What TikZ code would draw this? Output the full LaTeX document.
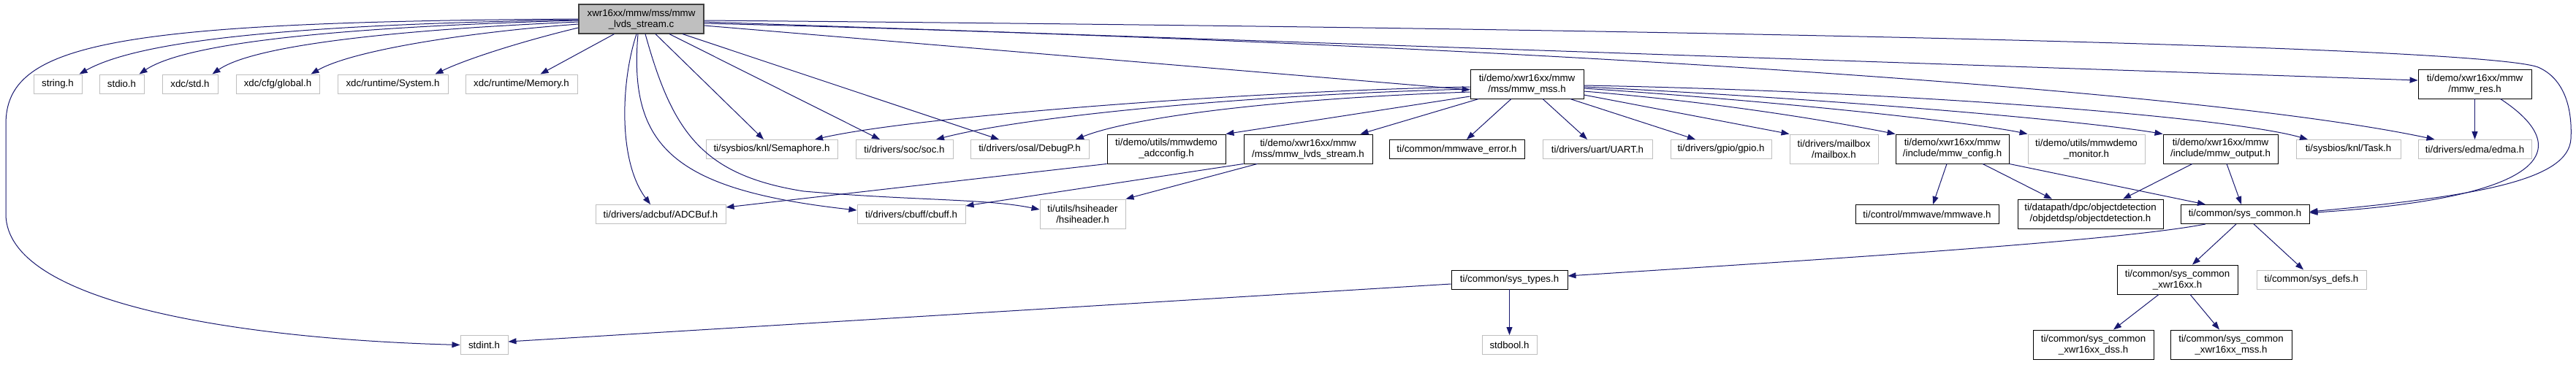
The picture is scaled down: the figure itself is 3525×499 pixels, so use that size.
\documentclass[tikz,border=0pt]{standalone}
\usepackage{fontspec}
\setmainfont{Liberation Sans}
\usetikzlibrary{arrows.meta}
\definecolor{edgec}{HTML}{191970}
\definecolor{greyb}{HTML}{BFBFBF}
\definecolor{mainb}{HTML}{404040}
\begin{document}
\begin{tikzpicture}[x=1pt,y=-1pt,
  every node/.style={font=\fontsize{13.3}{15}\selectfont, inner sep=0pt, align=center, minimum height=26pt},
  gbox/.style={draw=greyb, line width=1pt},
  bbox/.style={draw=black, line width=0.9pt},
  tall/.style={minimum height=40pt},
  dep/.style={draw=edgec, line width=1pt, -{Triangle[length=11pt,width=8pt]}},
]
\fill[white] (0,0) rectangle (3525,499);
\useasboundingbox (0,0) rectangle (3525,499);

% row 0
\node[draw=mainb, fill=greyb, line width=1.2pt, tall, minimum width=171] (main) at (877.5,26) {xwr16xx/mmw/mss/mmw\\\_lvds\_stream.c};

% row 1
\node[gbox, minimum width=66] (string) at (79,115) {string.h};
\node[gbox, minimum width=61] (stdio) at (166.5,115) {stdio.h};
\node[gbox, minimum width=76] (xdcstd) at (260,115) {xdc/std.h};
\node[gbox, minimum width=114] (global) at (380,115) {xdc/cfg/global.h};
\node[gbox, minimum width=151] (system) at (537.5,115) {xdc/runtime/System.h};
\node[gbox, minimum width=153] (memory) at (713.5,115) {xdc/runtime/Memory.h};
\node[bbox, tall, minimum width=155] (mss) at (2089.5,115) {ti/demo/xwr16xx/mmw\\/mss/mmw\_mss.h};
\node[bbox, tall, minimum width=155] (res) at (3386.5,115) {ti/demo/xwr16xx/mmw\\/mmw\_res.h};

% row 2
\node[gbox, minimum width=180] (sem) at (1056,204.5) {ti/sysbios/knl/Semaphore.h};
\node[gbox, minimum width=133] (soc) at (1237.5,204.5) {ti/drivers/soc/soc.h};
\node[gbox, minimum width=162] (debugp) at (1409,204.5) {ti/drivers/osal/DebugP.h};
\node[bbox, tall, minimum width=162] (adccfg) at (1596,204) {ti/demo/utils/mmwdemo\\\_adcconfig.h};
\node[bbox, tall, minimum width=176] (lvdsh) at (1790,204) {ti/demo/xwr16xx/mmw\\/mss/mmw\_lvds\_stream.h};
\node[bbox, minimum width=185] (mmwerr) at (1993.5,204.5) {ti/common/mmwave\_error.h};
\node[gbox, minimum width=150] (uart) at (2186,204.5) {ti/drivers/uart/UART.h};
\node[gbox, minimum width=138] (gpio) at (2355,204.5) {ti/drivers/gpio/gpio.h};
\node[gbox, tall, minimum width=121] (mailbox) at (2509.5,204) {ti/drivers/mailbox\\/mailbox.h};
\node[bbox, tall, minimum width=155] (config) at (2671.5,204) {ti/demo/xwr16xx/mmw\\/include/mmw\_config.h};
\node[gbox, tall, minimum width=160] (monitor) at (2855,204) {ti/demo/utils/mmwdemo\\\_monitor.h};
\node[bbox, tall, minimum width=157] (output) at (3038.5,204) {ti/demo/xwr16xx/mmw\\/include/mmw\_output.h};
\node[gbox, minimum width=143] (task) at (3213.5,204.5) {ti/sysbios/knl/Task.h};
\node[gbox, minimum width=155] (edma) at (3386.5,204.5) {ti/drivers/edma/edma.h};

% row 3
\node[gbox, minimum width=178] (adcbuf) at (904,293.5) {ti/drivers/adcbuf/ADCBuf.h};
\node[gbox, minimum width=148] (cbuff) at (1247,293.5) {ti/drivers/cbuff/cbuff.h};
\node[gbox, tall, minimum width=117] (hsi) at (1481.5,293) {ti/utils/hsiheader\\/hsiheader.h};
\node[bbox, minimum width=196] (mmwave) at (2637,293.5) {ti/control/mmwave/mmwave.h};
\node[bbox, tall, minimum width=199] (objdet) at (2860.5,293) {ti/datapath/dpc/objectdetection\\/objdetdsp/objectdetection.h};
\node[bbox, minimum width=176] (syscommon) at (3072,293.5) {ti/common/sys\_common.h};

% row 4
\node[bbox, minimum width=159] (systypes) at (2065.5,383) {ti/common/sys\_types.h};
\node[bbox, tall, minimum width=165] (scx) at (2979.5,383) {ti/common/sys\_common\\\_xwr16xx.h};
\node[gbox, minimum width=150] (sysdefs) at (3163,383) {ti/common/sys\_defs.h};

% row 5
\node[gbox, minimum width=65] (stdint) at (662.5,472.5) {stdint.h};
\node[gbox, minimum width=75] (stdbool) at (2065.5,472.5) {stdbool.h};
\node[bbox, tall, minimum width=165] (dss) at (2864.5,472) {ti/common/sys\_common\\\_xwr16xx\_dss.h};
\node[bbox, tall, minimum width=166] (mssx) at (3053,472) {ti/common/sys\_common\\\_xwr16xx\_mss.h};

% edges from main
\draw[dep] ([yshift=-1]main.west) .. controls (450,33) and (200,50) .. ([xshift=-4]string.north east);
\draw[dep] ([yshift=-2]main.west) .. controls (500,36) and (260,55) .. ([xshift=-7]stdio.north east);
\draw[dep] ([yshift=-4]main.west) .. controls (560,40) and (350,60) .. ([xshift=-8]xdcstd.north east);
\draw[dep] ([yshift=-7]main.west) .. controls (630,45) and (480,70) .. ([xshift=-12]global.north east);
\draw[dep] ([yshift=-12]main.west) .. controls (720,55) and (640,80) .. ([xshift=-18]system.north east);
\draw[dep] ([xshift=-37]main.south) -- ([xshift=26]memory.north);
\draw[dep] (main.west) .. controls (150,30) and (8,60) .. (8,170) -- (8,293) .. controls (8,420) and (350,465) .. (stdint.west);
\draw[dep] ([yshift=-9]main.east) -- ([yshift=-8]mss.west);
\draw[dep] ([yshift=-4]main.east) -- ([yshift=5]res.west);
\draw[dep] ([yshift=-6]main.east) .. controls (2000,58) and (3000,120) .. ([xshift=-55]edma.north);
\draw[dep] ([yshift=-2]main.east) .. controls (2400,40) and (3400,65) .. (3473,92) .. controls (3510,108) and (3520,150) .. (3518,190) .. controls (3515,245) and (3400,268) .. ([yshift=3.5]syscommon.east);
\draw[dep] ([xshift=19.5]main.south) -- ([xshift=-11]sem.north);
\draw[dep] ([xshift=38.5]main.south) -- ([xshift=-33.5]soc.north);
\draw[dep] ([xshift=56.5]main.south) -- ([xshift=-42]debugp.north);
\draw[dep] ([xshift=-6.5]main.south) .. controls (850,110) and (845,220) .. ([xshift=-14]adcbuf.north);
\draw[dep] ([xshift=-4.5]main.south) .. controls (860,200) and (920,260) .. ([yshift=5.5]cbuff.west);
\draw[dep] ([xshift=5.5]main.south) .. controls (920,180) and (960,240) .. (1100,262) .. controls (1250,275) and (1350,272) .. ([yshift=6]hsi.west);

% mmw_res
\draw[dep] ([xshift=35]res.south) .. controls (3520,200) and (3500,270) .. ([yshift=2]syscommon.east);
\draw[dep] (res.south) -- (edma.north);

% mmw_mss
\draw[dep] ([yshift=-4]mss.west) .. controls (1700,125) and (1250,160) .. ([xshift=59]sem.north);
\draw[dep] ([yshift=-7]mss.west) .. controls (1700,130) and (1400,160) .. ([xshift=43.5]soc.north);
\draw[dep] ([yshift=-11]mss.west) .. controls (1750,135) and (1550,160) .. ([xshift=63]debugp.north);
\draw[dep] ([yshift=-17]mss.west) -- (adccfg.north east);
\draw[dep] ([xshift=12]mss.south west) -- ([xshift=-17]lvdsh.north east);
\draw[dep] ([xshift=-21.5]mss.south) -- ([xshift=13.5]mmwerr.north);
\draw[dep] ([xshift=21.5]mss.south) -- ([xshift=-14]uart.north);
\draw[dep] ([xshift=-19]mss.south east) -- ([xshift=-35]gpio.north);
\draw[dep] ([yshift=-15]mss.east) -- (mailbox.north west);
\draw[dep] ([yshift=-10]mss.east) .. controls (2350,140) and (2500,165) .. (config.north west);
\draw[dep] ([yshift=-6]mss.east) .. controls (2450,140) and (2700,168) .. (monitor.north west);
\draw[dep] ([yshift=-4]mss.east) .. controls (2500,135) and (2850,165) .. (output.north west);
\draw[dep] ([yshift=-2]mss.east) .. controls (2600,125) and (3050,160) .. ([xshift=-55.5]task.north);

% second level
\draw[dep] (adccfg.south west) -- ([yshift=9.5]adcbuf.east);
\draw[dep] (lvdsh.south west) -- ([yshift=11.5]cbuff.east);
\draw[dep] ([xshift=19]lvdsh.south west) -- (hsi.north east);
\draw[dep] ([xshift=-7.5]config.south) -- ([xshift=8]mmwave.north);
\draw[dep] ([xshift=41.5]config.south) -- ([xshift=-52.5]objdet.north);
\draw[dep] (config.south east) -- ([xshift=-54]syscommon.north);
\draw[dep] ([xshift=-38.5]output.south) -- ([xshift=44.5]objdet.north);
\draw[dep] ([xshift=8.5]output.south) -- ([xshift=-5]syscommon.north);

% sys_common and below
\draw[dep] ([xshift=-54]syscommon.south) .. controls (2900,330) and (2500,355) .. ([yshift=5]systypes.east);
\draw[dep] ([xshift=-12]syscommon.south) -- ([xshift=20.5]scx.north);
\draw[dep] ([xshift=12]syscommon.south) -- ([xshift=-11]sysdefs.north);
\draw[dep] ([xshift=-25.5]scx.south) -- ([xshift=27.5]dss.north);
\draw[dep] ([xshift=17.5]scx.south) -- ([xshift=-16]mssx.north);
\draw[dep] (systypes.south) -- (stdbool.north);
\draw[dep] ([yshift=-6]systypes.west) -- ([yshift=4.5]stdint.east);
\end{tikzpicture}
\end{document}
